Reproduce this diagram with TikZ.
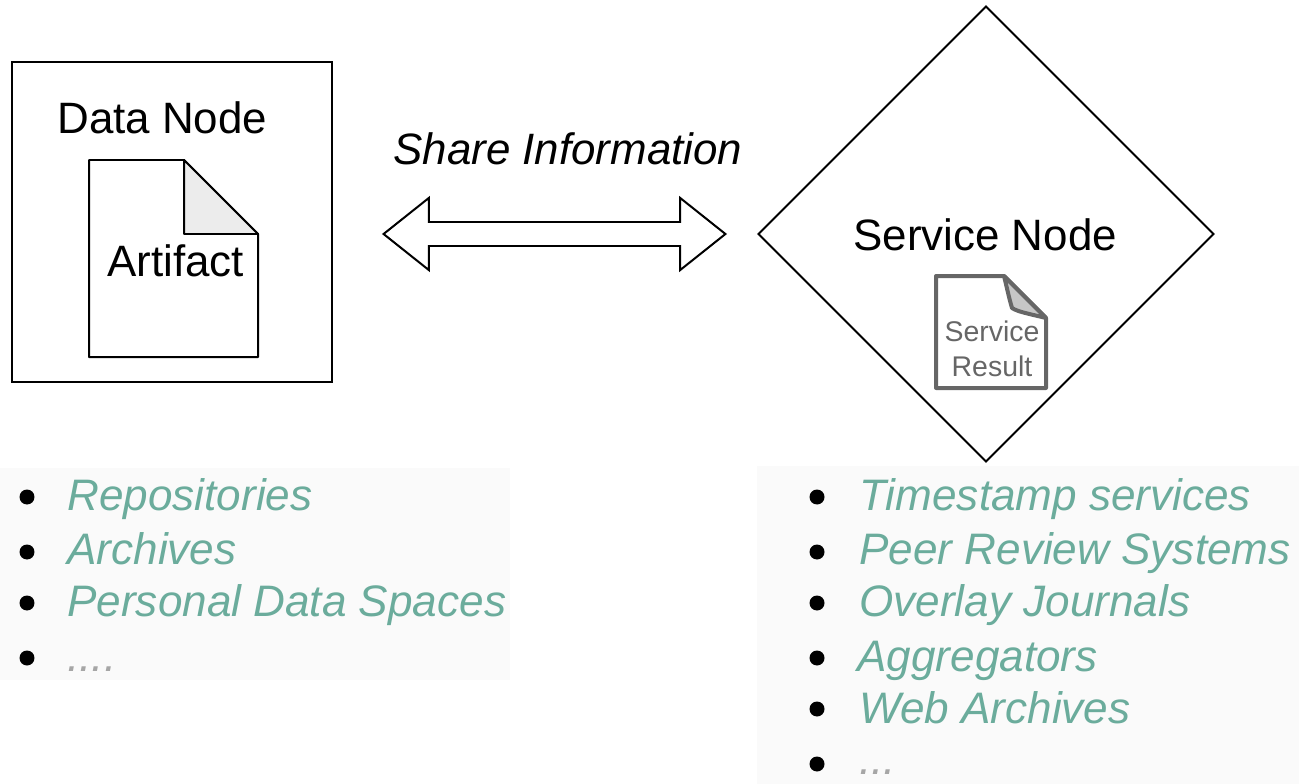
\documentclass[tikz,border=0pt]{standalone}
\usepackage{fontspec}
\setmainfont{Liberation Sans}
\usetikzlibrary{shapes.geometric, arrows.meta}

\definecolor{listgreen}{HTML}{6BAC9C}
\definecolor{listback}{HTML}{FAFAFA}
\definecolor{resultgray}{HTML}{666666}

\begin{document}
\begin{tikzpicture}[x=0.02cm,y=-0.02cm]

\tikzstyle{label}=[inner sep=0, text=black, font=\fontsize{25}{30}\selectfont, anchor=base west]
\tikzstyle{item}=[inner sep=0, text=listgreen, font=\fontsize{25.1}{30}\selectfont\itshape, anchor=base west]
\tikzstyle{dots}=[inner sep=0, text=gray!70, font=\fontsize{25.1}{30}\selectfont\itshape, anchor=base west]
\tikzstyle{bullet}=[circle, fill=black, inner sep=0, minimum size=0.3cm]
\tikzstyle{datanode}=[rectangle, draw=black, line width=0.04cm, minimum size=6.4cm]
\tikzstyle{servicenode}=[diamond, aspect=1, draw=black, line width=0.04cm, minimum width=9.12cm, minimum height=9.12cm, inner sep=0]

	\useasboundingbox (0,0) rectangle (1299,784);

	% List backgrounds
	\fill[listback] (0,468) rectangle (510,680);
	\fill[listback] (757,466) rectangle (1299,784);

	\node[datanode] (data) at (172,222) {};
	\node[servicenode] (service) at (986,234) {};

	% Artifact page
	\draw[black, line width=0.04cm, line join=round] (89,160) -- (184,160) -- (258,234) -- (258,357) -- (89,357) -- cycle;
	\filldraw[draw=black, fill=gray!15, line width=0.04cm, line join=round] (184,160) -- (258,234) -- (184,234) -- cycle;

	% Service result page
	\draw[resultgray, line width=0.08cm, line join=round] (936,276) -- (1004,276) -- (1046,318) -- (1046,388) -- (936,388) -- cycle;
	\filldraw[draw=resultgray, fill=gray!45, line width=0.08cm, line join=round] (1004,276) -- (1046,318) .. controls (1030,314) and (1018,312) .. (1012,308) .. controls (1009,298) and (1007,288) .. (1004,276) -- cycle;

	\node[label] (datalabel) at (57,133) {Data Node};
	\node[label] (artifact) at (107,276) {Artifact};
	\node[label] (servicelabel) at (853,251) {Service Node};
	\node[label, font=\fontsize{25}{30}\selectfont\itshape] (share) at (393,165) {Share Information};
	\node[inner sep=0, text=resultgray, align=center, font=\fontsize{16.2}{20}\selectfont] (result) at (992,349) {Service\\Result};

	% Information link
	\draw[{Triangle[open, fill=white, length=0.96cm, width=1.52cm, line width=0.04cm]}-{Triangle[open, fill=white, length=0.96cm, width=1.52cm, line width=0.04cm]}, double, double distance=0.44cm, line width=0.04cm, shorten <=0.98cm, shorten >=0.6cm] (service.west -| data.east) -- (service.west);
	\draw[white, line width=0.44cm, shorten <=1.7cm, shorten >=1.3cm] (service.west -| data.east) -- (service.west);

	\node[bullet] (d1) at (27,497) {};
	\node[bullet] (d2) at (27,552) {};
	\node[bullet] (d3) at (27,603) {};
	\node[bullet] (d4) at (27,658) {};

	\node[item] (repos) at (67,510) {Repositories};
	\node[item] (archives) at (67,564) {Archives};
	\node[item] (spaces) at (67,616) {Personal Data Spaces};
	\node[dots] (more1) at (67,671) {....};

	\node[bullet] (s1) at (817,497) {};
	\node[bullet] (s2) at (817,552) {};
	\node[bullet] (s3) at (817,603) {};
	\node[bullet] (s4) at (817,658) {};
	\node[bullet] (s5) at (817,709) {};
	\node[bullet] (s6) at (817,764) {};

	\node[item] (stamp) at (859,510) {Timestamp services};
	\node[item] (review) at (859,564) {Peer Review Systems};
	\node[item] (overlay) at (859,616) {Overlay Journals};
	\node[item] (aggr) at (857,671) {Aggregators};
	\node[item] (webarch) at (859,723) {Web Archives};
	\node[dots] (more2) at (859,774) {...};
\end{tikzpicture}
\end{document}
